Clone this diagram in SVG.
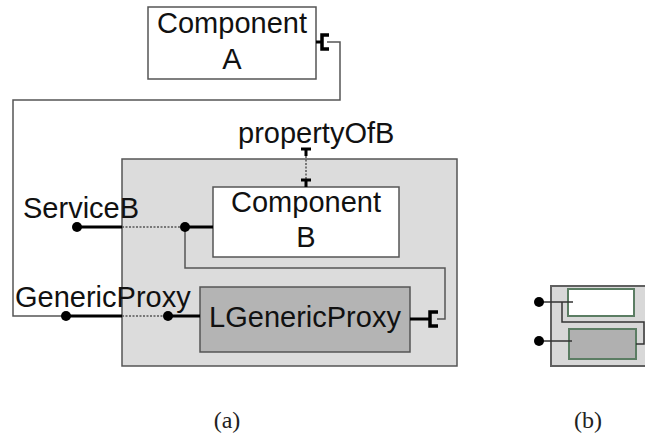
<svg xmlns="http://www.w3.org/2000/svg" width="645" height="440" viewBox="0 0 645 440">
  <style>
    .lbl { font-family: "Liberation Sans", Arial, sans-serif; font-size: 29px; fill: #111; }
    .cap { font-family: "Liberation Serif", "DejaVu Serif", serif; font-size: 24px; fill: #222; }
    .box { stroke: #555; stroke-width: 1.5; }
    .wire { fill: none; stroke: #555; stroke-width: 1.5; }
    .thick { fill: none; stroke: #000; stroke-width: 3; }
    .rcpt { fill: none; stroke: #000; stroke-width: 3.5; }
    .dots { fill: none; stroke: #555; stroke-width: 1.5; stroke-dasharray: 2 1.5; }
    .dot { fill: #000; }
    .gbox { stroke: #5b7d63; stroke-width: 2; }
  </style>
  <rect width="645" height="440" fill="#fff"/>

  <!-- (a) composite container -->
  <g id="compositeB">
    <rect x="122" y="159" width="335" height="207" fill="#dcdcdc" class="box"/>
  </g>

  <g id="componentA">
    <rect x="148" y="7" width="168" height="72" fill="#fff" class="box"/>
    <text class="lbl" x="232" y="33" text-anchor="middle">Component</text>
    <text class="lbl" x="232" y="69" text-anchor="middle">A</text>
  </g>

  <g id="componentB">
    <rect x="213" y="187" width="186" height="70" fill="#fff" class="box"/>
    <text class="lbl" x="306" y="212" text-anchor="middle">Component</text>
    <text class="lbl" x="306" y="247" text-anchor="middle">B</text>
  </g>

  <g id="lGenericProxy">
    <rect x="200" y="287" width="210" height="65" fill="#b4b4b4" class="box"/>
    <text class="lbl" x="305" y="327" text-anchor="middle">LGenericProxy</text>
  </g>

  <g id="labels">
    <text class="lbl" x="23" y="218">ServiceB</text>
    <text class="lbl" x="15" y="307">GenericProxy</text>
    <text class="lbl" x="238" y="143">propertyOfB</text>
  </g>

  <g id="connectors">
    <!-- A receptacle wired to the GenericProxy service -->
    <path class="wire" d="M327 42 H340 V100 H13 V316 H64"/>
    <!-- ServiceB wired to the LGenericProxy receptacle -->
    <path class="wire" d="M185 227 V268 H445 V319 H437"/>

    <!-- receptacle on A -->
    <path class="thick" d="M316 42 H322"/>
    <path class="rcpt" d="M329 35 H322 V49 H329"/>
    <!-- receptacle on LGenericProxy -->
    <path class="thick" d="M410 319 H429"/>
    <path class="rcpt" d="M438 312 H430 V326 H438"/>

    <!-- ServiceB delegation -->
    <path class="thick" d="M77 227 H122"/>
    <path class="dots" d="M122 227 H185"/>
    <path class="thick" d="M185 227 H213"/>
    <circle class="dot" cx="77" cy="227" r="5"/>
    <circle class="dot" cx="185" cy="227" r="5"/>

    <!-- GenericProxy delegation -->
    <path class="thick" d="M66 316 H122"/>
    <path class="dots" d="M122 316 H168"/>
    <path class="thick" d="M168 316 H200"/>
    <circle class="dot" cx="66" cy="316" r="5"/>
    <circle class="dot" cx="168" cy="316" r="5"/>

    <!-- propertyOfB delegation -->
    <path class="thick" d="M301 149 H311 M306 149 V156"/>
    <path class="dots" d="M306 156 V180"/>
    <path class="thick" d="M301 180 H311 M306 180 V187"/>
  </g>

  <!-- (b) compact view -->
  <g id="compactB">
    <rect x="551" y="286" width="96" height="80" fill="#d8d8d8" stroke="#606060" stroke-width="2"/>
    <rect x="568" y="289" width="66" height="27" fill="#fff" class="gbox"/>
    <rect x="569" y="329" width="67" height="30" fill="#b0b0b0" class="gbox"/>
    <path fill="none" stroke="#333" stroke-width="1.5" d="M539 302 H573 M562 302 V322 H644 V344 H636 M539 341 H572"/>
    <circle class="dot" cx="539" cy="302" r="5"/>
    <circle class="dot" cx="539" cy="341" r="5"/>
  </g>

  <g id="captions">
    <text class="cap" x="227" y="428" text-anchor="middle">(a)</text>
    <text class="cap" x="588" y="428" text-anchor="middle">(b)</text>
  </g>
</svg>
